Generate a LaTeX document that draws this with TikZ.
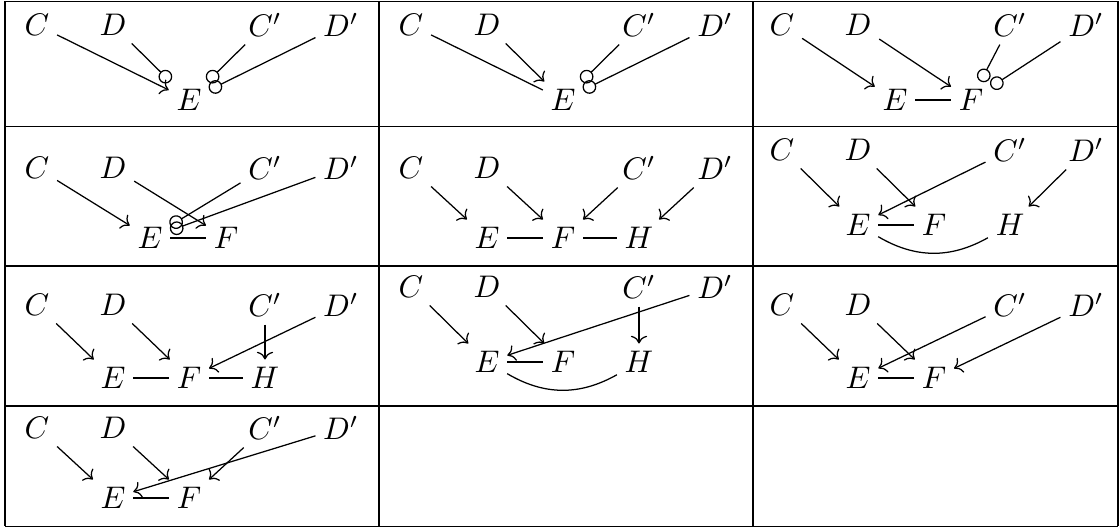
\documentclass[tikz,border=0pt]{standalone}
\usepackage{tikz,amsmath,amssymb}
\usetikzlibrary{arrows.meta, calc}

\tikzset{
  lbl/.style={inner sep=2.5pt, outer sep=0pt},
  frame/.style={line width=0.6pt},
  dir/.style={->},
  circ/.style={-{Circle[open,length=4.4pt]}},
}

% the four upper nodes of one cell: #1 cell, #2 left x, #3 y
\newcommand{\topnodes}[3]{%
  \node[lbl] (c#1)  at ({#2+32},#3)  {$C$};
  \node[lbl] (d#1)  at ({#2+108},#3) {$D$};
  \node[lbl] (cp#1) at ({#2+260},#3) {$C'$};
  \node[lbl] (dp#1) at ({#2+336},#3) {$D'$};
}

\begin{document}
\begin{tikzpicture}[x=0.32pt, y=-0.32pt]
    \useasboundingbox (0,0) rectangle (1120,528);
    % table rules
    \foreach \yy in {1.5,126.5,266,406,526.5}
      \draw[frame] (5,\yy) -- (1118,\yy);
    \foreach \xx in {5,379,753,1118}
      \draw[frame] (\xx,1.5) -- (\xx,526.5);

    % row 1
    \topnodes{1}{5}{25}
    \node[lbl] (e1) at (189,100) {$E$};
    \draw[dir]  (c1) -- (e1);
    \draw[circ] (d1) -- (e1);
    \draw[circ] (cp1) -- (e1);
    \draw[circ] (dp1) -- (e1);

    \topnodes{2}{379}{25}
    \node[lbl] (e2) at (563,100) {$E$};
    \draw       (c2) -- (e2);
    \draw[dir]  (d2) -- (e2);
    \draw[circ] (cp2) -- (e2);
    \draw[circ] (dp2) -- (e2);

    \topnodes{3}{750}{25}
    \node[lbl] (e3) at (895,100) {$E$};
    \node[lbl] (f3) at (971,100) {$F$};
    \draw[dir]  (c3) -- (e3);
    \draw[dir]  (d3) -- (f3);
    \draw[circ] (cp3) -- (f3);
    \draw[circ] (dp3) -- (f3);
    \draw       (e3) -- (f3);

    % row 2
    \topnodes{4}{5}{168}
    \node[lbl] (e4) at (150,238) {$E$};
    \node[lbl] (f4) at (226,238) {$F$};
    \draw[dir]  (c4) -- (e4);
    \draw[dir]  (d4) -- (f4);
    \draw[circ] (cp4) -- (e4);
    \draw[circ] (dp4) -- (e4);
    \draw       (e4) -- (f4);

    \topnodes{5}{379}{168}
    \node[lbl] (e5) at (487,238) {$E$};
    \node[lbl] (f5) at (563,238) {$F$};
    \node[lbl] (h5) at (639,238) {$H$};
    \draw[dir] (c5) -- (e5);
    \draw[dir] (d5) -- (f5);
    \draw[dir] (cp5) -- (f5);
    \draw[dir] (dp5) -- (h5);
    \draw      (e5) -- (f5);
    \draw      (f5) -- (h5);

    \topnodes{6}{750}{150}
    \node[lbl] (e6) at (858,225) {$E$};
    \node[lbl] (f6) at (934,225) {$F$};
    \node[lbl] (h6) at (1010,225) {$H$};
    \draw[dir] (c6) -- (e6);
    \draw[dir] (d6) -- (f6);
    \draw[dir] (cp6) -- (e6);
    \draw[dir] (dp6) -- (h6);
    \draw      (e6) -- (f6);
    \draw      (e6) to[bend right=30] (h6);

    % row 3
    \topnodes{7}{5}{305}
    \node[lbl] (e7) at (113,378) {$E$};
    \node[lbl] (f7) at (189,378) {$F$};
    \node[lbl] (h7) at (265,378) {$H$};
    \draw[dir] (c7) -- (e7);
    \draw[dir] (d7) -- (f7);
    \draw[dir] (cp7) -- (h7);
    \draw[dir] (dp7) -- (f7);
    \draw      (e7) -- (f7);
    \draw      (f7) -- (h7);

    \topnodes{8}{379}{287}
    \node[lbl] (e8) at (487,362) {$E$};
    \node[lbl] (f8) at (563,362) {$F$};
    \node[lbl] (h8) at (639,362) {$H$};
    \draw[dir] (c8) -- (e8);
    \draw[dir] (d8) -- (f8);
    \draw[dir] (cp8) -- (h8);
    \draw[dir] (dp8) -- (e8);
    \draw      (e8) -- (f8);
    \draw      (e8) to[bend right=30] (h8);

    \topnodes{9}{750}{305}
    \node[lbl] (e9) at (858,378) {$E$};
    \node[lbl] (f9) at (934,378) {$F$};
    \draw[dir] (c9) -- (e9);
    \draw[dir] (d9) -- (f9);
    \draw[dir] (cp9) -- (e9);
    \draw[dir] (dp9) -- (f9);
    \draw      (e9) -- (f9);

    % row 4
    \topnodes{10}{5}{428}
    \node[lbl] (e10) at (113,498) {$E$};
    \node[lbl] (f10) at (189,498) {$F$};
    \draw[dir] (c10) -- (e10);
    \draw[dir] (d10) -- (f10);
    \draw[dir] (cp10) -- (f10);
    \draw[dir] (dp10) -- (e10);
    \draw      (e10) -- (f10);
\end{tikzpicture}
\end{document}
